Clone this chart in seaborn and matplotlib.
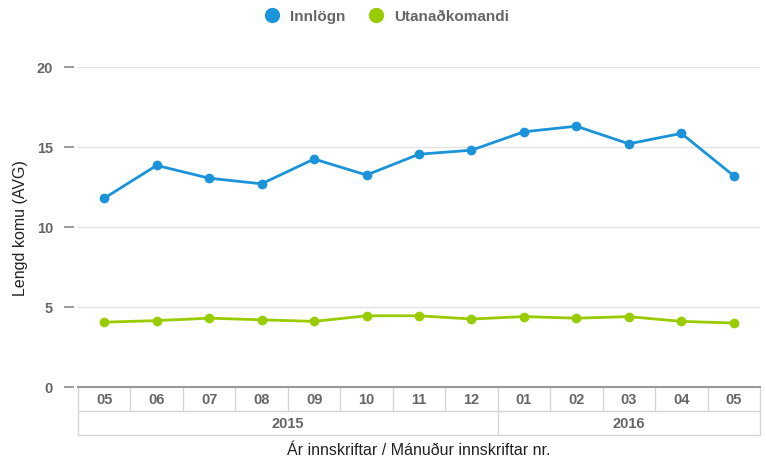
import pandas as pd
import seaborn as sns
import matplotlib.pyplot as plt
from matplotlib.lines import Line2D

months = ["05", "06", "07", "08", "09", "10", "11", "12", "01", "02", "03", "04", "05"]
years = ["2015", "2015", "2015", "2015", "2015", "2015", "2015", "2015",
         "2016", "2016", "2016", "2016", "2016"]
innlogn = [11.8, 13.85, 13.05, 12.7, 14.25, 13.25, 14.55, 14.8, 15.95, 16.3, 15.2, 15.85, 13.2]
utan = [4.05, 4.15, 4.3, 4.2, 4.1, 4.45, 4.45, 4.25, 4.4, 4.3, 4.4, 4.1, 4.0]
series = ["Innlögn", "Utanaðkomandi"]
colors = {"Innlögn": "#1a93d9", "Utanaðkomandi": "#99cc00"}

df = pd.DataFrame({
    "pos": list(range(len(months))) * 2,
    "value": innlogn + utan,
    "series": [series[0]] * len(months) + [series[1]] * len(months),
})

sns.set_style("white")
plt.rcParams["font.family"] = ["Liberation Sans", "DejaVu Sans"]

fig = plt.figure(figsize=(7.66, 4.64), dpi=100)
ax = fig.add_axes([78 / 766, 1 - 388 / 464, 682 / 766, 320 / 464])

sns.lineplot(data=df, x="pos", y="value", hue="series", palette=colors,
             marker="o", markersize=7, markeredgewidth=0, linewidth=2,
             ax=ax, legend=False)

ax.set_xlim(-0.5, len(months) - 0.5)
ax.set_ylim(0, 20)
ax.set_yticks([0, 5, 10, 15, 20])
ax.yaxis.grid(True, color="#e3e3e3", linewidth=1)
ax.set_axisbelow(True)
for s in ["top", "right", "left"]:
    ax.spines[s].set_visible(False)
ax.spines["left"].set_position(("outward", 3))
ax.spines["bottom"].set_color("#999999")
ax.spines["bottom"].set_linewidth(1.5)
ax.tick_params(axis="y", left=True, length=7, width=1.2, color="#888888", pad=8,
               labelsize=10.5, labelcolor="#666666")
for t in ax.get_yticklabels():
    t.set_fontweight("bold")
ax.set_xticks([])
ax.set_xlabel("")
ax.set_ylabel("Lengd komu (AVG)", fontsize=11.5, color="#222222", labelpad=6)

# category table under the axis
tr = ax.get_xaxis_transform()
row = 24 / 320
lc = "#d6d6d6"
n = len(months)
ax.plot([-0.5, n - 0.5], [-row, -row], transform=tr, color=lc, lw=1, clip_on=False)
ax.plot([-0.5, n - 0.5], [-2 * row, -2 * row], transform=tr, color=lc, lw=1, clip_on=False)
for i, m in enumerate(months):
    ax.text(i, -row / 2, m, transform=tr, ha="center", va="center",
            fontsize=10.5, fontweight="bold", color="#666666")
    if i > 0:
        ax.plot([i - 0.5, i - 0.5], [0, -row], transform=tr, color=lc, lw=1, clip_on=False)
ax.plot([-0.5, -0.5], [0, -2 * row], transform=tr, color=lc, lw=1, clip_on=False)
ax.plot([n - 0.5, n - 0.5], [0, -2 * row], transform=tr, color=lc, lw=1, clip_on=False)
start = 0
for i in range(1, n + 1):
    if i == n or years[i] != years[start]:
        ax.text((start + i - 1) / 2, -1.5 * row, years[start], transform=tr,
                ha="center", va="center", fontsize=10.5, fontweight="bold", color="#666666")
        if i < n:
            ax.plot([i - 0.5, i - 0.5], [-row, -2 * row], transform=tr,
                    color=lc, lw=1, clip_on=False)
        start = i
ax.text((n - 1) / 2, -2 * row - 15 / 320, "Ár innskriftar / Mánuður innskriftar nr.",
        transform=tr, ha="center", va="center", fontsize=11.5, color="#222222")

handles = [Line2D([], [], marker="o", linestyle="none", markersize=11,
                  markeredgewidth=0, color=colors[s]) for s in series]
leg = fig.legend(handles, series, loc="center", bbox_to_anchor=(0.5, 1 - 17 / 464),
                 ncol=2, frameon=False, handletextpad=0.2, columnspacing=1.0,
                 prop={"weight": "bold", "size": 11})
for t in leg.get_texts():
    t.set_color("#666666")

fig.savefig("out.png", dpi=100)
